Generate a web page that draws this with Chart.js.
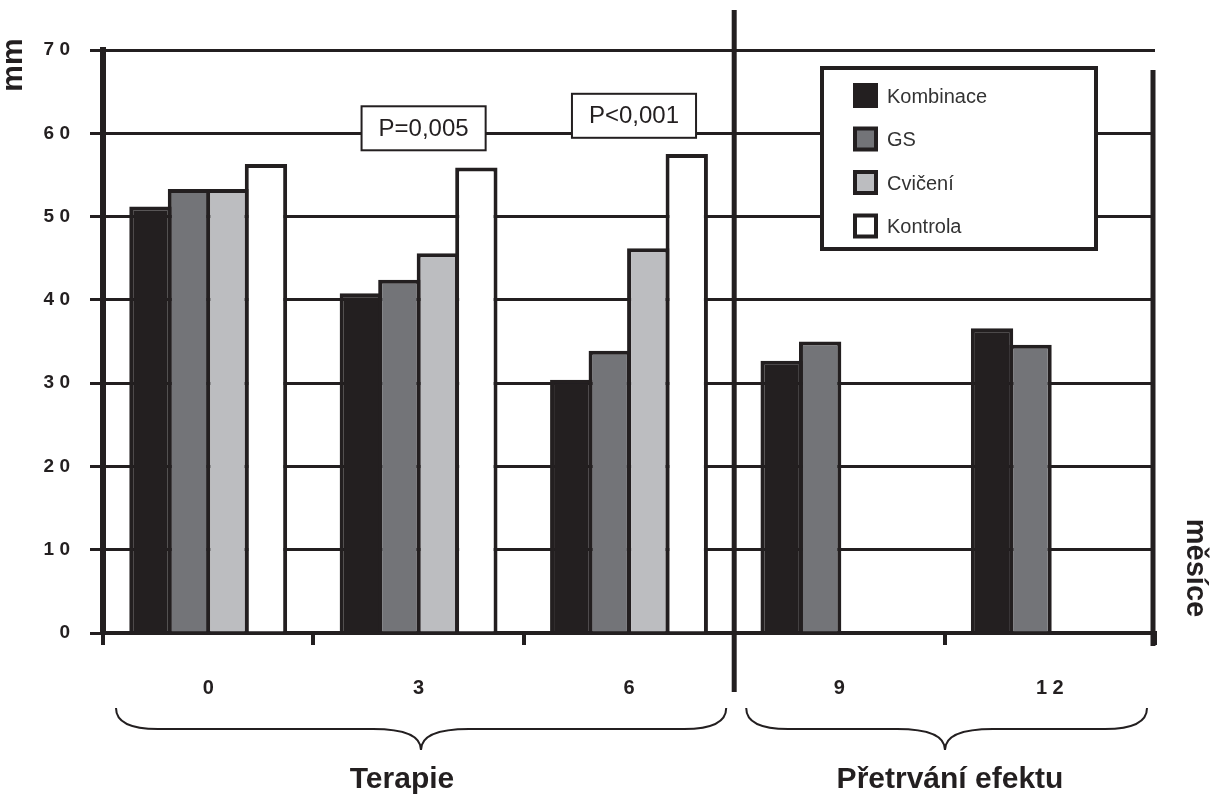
<!DOCTYPE html>
<html>
<head>
<meta charset="utf-8">
<script src="https://cdn.jsdelivr.net/npm/chart.js@4"></script>
<style>
  html, body { margin: 0; padding: 0; background: #fff; }
  canvas { display: block; }
</style>
</head>
<body>
<canvas id="chart" width="1221" height="800"></canvas>
<script>
'use strict';

// data (mm)
var months = ['0', '3', '6', '9', '12'];
var kombinace = [51.2, 40.8, 30.4, 32.7, 36.6];
var gs = [53.3, 42.4, 33.9, 35.0, 34.6];
var cviceni = [53.3, 45.6, 46.2, null, null];
var kontrola = [56.3, 55.9, 57.5, null, null];
var yMin = 0, yMax = 70, yStep = 10;

// p-values above the groups (category index, y value of the box centre)
var pLabels = ['P=0,005', 'P<0,001'];
var pAt = [1, 2];
var pY = [60.6, 62.1];

var INK = '#231f20';
var FONT = '"Liberation Sans", Arial, sans-serif';

// "7 0", "1 2" like in the original
function spaced(s) {
  return String(s).split('').join(' ');
}

function drawBrace(ctx, x0, x1, cx, top, mid, bot) {
  var r = 42, rc = 48;
  ctx.beginPath();
  ctx.moveTo(x0, top);
  ctx.quadraticCurveTo(x0, mid, x0 + r, mid);
  ctx.lineTo(cx - rc, mid);
  ctx.quadraticCurveTo(cx, mid, cx, bot);
  ctx.quadraticCurveTo(cx, mid, cx + rc, mid);
  ctx.lineTo(x1 - r, mid);
  ctx.quadraticCurveTo(x1, mid, x1, top);
  ctx.stroke();
}

var decor = {
  id: 'decor',
  beforeDraw: function(chart) {
    var ctx = chart.ctx;
    ctx.save();
    ctx.fillStyle = '#fff';
    ctx.fillRect(0, 0, chart.width, chart.height);
    ctx.restore();
  },
  afterDraw: function(chart) {
    var ctx = chart.ctx;
    var area = chart.chartArea;
    var x = chart.scales.x, y = chart.scales.y;
    var slot = (area.right - area.left) / months.length;
    var divX = area.left + slot * 3;

    ctx.save();
    ctx.strokeStyle = INK;
    ctx.fillStyle = INK;

    // right frame line, starts a bit under the 70 line
    ctx.lineWidth = 5;
    ctx.beginPath();
    ctx.moveTo(area.right - 2, area.top + 20);
    ctx.lineTo(area.right - 2, area.bottom + 13);
    ctx.stroke();

    // divider Terapie / Přetrvání efektu
    ctx.lineWidth = 5;
    ctx.beginPath();
    ctx.moveTo(divX, 10);
    ctx.lineTo(divX, 692);
    ctx.stroke();

    // p-value boxes
    ctx.font = '24px ' + FONT;
    ctx.textAlign = 'center';
    ctx.textBaseline = 'middle';
    for (var i = 0; i < pLabels.length; i++) {
      var cx = x.getPixelForValue(pAt[i]) + 5;
      var cy = y.getPixelForValue(pY[i]);
      var w = ctx.measureText(pLabels[i]).width + 34;
      var h = 44;
      ctx.fillStyle = '#fff';
      ctx.fillRect(cx - w / 2, cy - h / 2, w, h);
      ctx.lineWidth = 2;
      ctx.strokeRect(cx - w / 2, cy - h / 2, w, h);
      ctx.fillStyle = INK;
      ctx.fillText(pLabels[i], cx, cy + 1);
    }

    // legend box
    var lx = 822, ly = 68, lw = 274, lh = 181;
    ctx.fillStyle = '#fff';
    ctx.fillRect(lx, ly, lw, lh);
    ctx.lineWidth = 4;
    ctx.strokeRect(lx, ly, lw, lh);
    ctx.font = '20px ' + FONT;
    ctx.textAlign = 'left';
    chart.data.datasets.forEach(function(ds, k) {
      var sy = 83 + k * 43.5;
      ctx.fillStyle = INK;
      ctx.fillRect(853, sy, 25, 25);
      ctx.fillStyle = ds.backgroundColor;
      ctx.fillRect(857, sy + 4, 17, 17);
      ctx.fillStyle = '#333';
      ctx.fillText(ds.label, 887, sy + 14);
    });

    // braces under the axis
    ctx.lineWidth = 2;
    drawBrace(ctx, area.left + 13, divX - 8, 421, 708, 729, 750);
    drawBrace(ctx, divX + 12, area.right - 8, 945, 708, 729, 750);

    ctx.fillStyle = INK;
    ctx.font = 'bold 30px ' + FONT;
    ctx.textAlign = 'center';
    ctx.fillText('Terapie', 402, 780);
    ctx.fillText('Přetrvání efektu', 950, 780);

    // axis titles
    ctx.save();
    ctx.translate(14, 65);
    ctx.rotate(-Math.PI / 2);
    ctx.font = 'bold 30px ' + FONT;
    ctx.fillText('mm', 0, 0);
    ctx.restore();

    ctx.save();
    ctx.translate(1195, 568);
    ctx.rotate(Math.PI / 2);
    ctx.font = 'bold 29px ' + FONT;
    ctx.fillText('měsíce', 0, 0);
    ctx.restore();

    ctx.restore();
  }
};

function barSet(label, data, color) {
  return {
    label: label,
    data: data,
    backgroundColor: color,
    borderColor: INK,
    borderWidth: 4,
    borderSkipped: 'start',
    barPercentage: 1.1,
    categoryPercentage: 0.732
  };
}

var ctx = document.getElementById('chart');
var myChart = new Chart(ctx, {
  type: 'bar',
  data: {
    labels: months,
    datasets: [
      barSet('Kombinace', kombinace, INK),
      barSet('GS', gs, '#737478'),
      barSet('Cvičení', cviceni, '#bcbdc0'),
      barSet('Kontrola', kontrola, '#ffffff')
    ]
  },
  options: {
    responsive: false,
    animation: false,
    layout: {
      padding: { top: 50, right: 66, left: 0, bottom: 0 }
    },
    plugins: {
      legend: { display: false },
      tooltip: { enabled: false }
    },
    scales: {
      x: {
        grid: {
          offset: true,
          drawOnChartArea: false,
          color: INK,
          lineWidth: 4,
          tickLength: 12
        },
        border: { color: INK, width: 4 },
        ticks: {
          color: INK,
          padding: 31,
          font: { family: FONT, size: 20, weight: 'bold' },
          callback: function(v, i) { return spaced(months[i]); }
        },
        afterFit: function(s) { s.height = 167; }
      },
      y: {
        min: yMin,
        max: yMax,
        grid: {
          color: INK,
          lineWidth: 3,
          tickLength: 13
        },
        border: { color: INK, width: 6 },
        ticks: {
          stepSize: yStep,
          color: INK,
          padding: 20,
          font: { family: FONT, size: 19, weight: 'bold' },
          callback: function(v) { return spaced(v); }
        },
        afterFit: function(s) { s.width = 103; }
      }
    }
  },
  plugins: [decor]
});
</script>
</body>
</html>
